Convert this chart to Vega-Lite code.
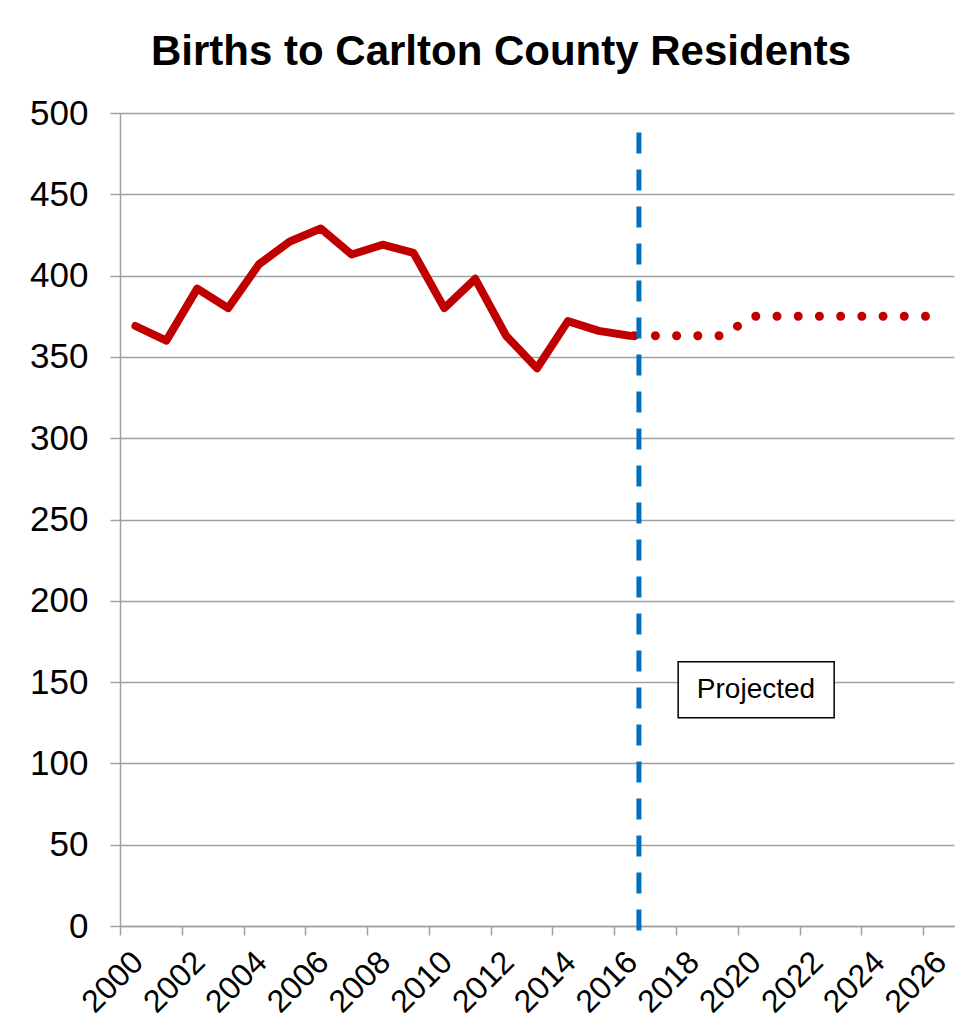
{
  "$schema": "https://vega.github.io/schema/vega-lite/v6.json",
  "width": 834,
  "height": 813,
  "autosize": "none",
  "padding": {"left": 120, "top": 113, "right": 24, "bottom": 107},
  "background": "white",
  "config": {
    "view": {"stroke": null},
    "font": "Liberation Sans",
    "axis": {"labelFont": "Liberation Sans", "labelColor": "black", "domainColor": "#A0A0A0", "tickColor": "#A0A0A0", "gridColor": "#A0A0A0", "domainWidth": 1.5, "tickWidth": 1.5, "gridWidth": 1.5}
  },
  "title": {
    "text": "Births to Carlton County Residents",
    "fontSize": 42,
    "fontWeight": "bold",
    "font": "Liberation Sans",
    "color": "black",
    "anchor": "middle",
    "dx": -36,
    "offset": 22
  },
  "datasets": {
    "births": [
      {"year": 2000, "births": 369, "series": "Actual"},
      {"year": 2001, "births": 360, "series": "Actual"},
      {"year": 2002, "births": 392, "series": "Actual"},
      {"year": 2003, "births": 380, "series": "Actual"},
      {"year": 2004, "births": 407, "series": "Actual"},
      {"year": 2005, "births": 421, "series": "Actual"},
      {"year": 2006, "births": 429, "series": "Actual"},
      {"year": 2007, "births": 413, "series": "Actual"},
      {"year": 2008, "births": 419, "series": "Actual"},
      {"year": 2009, "births": 414, "series": "Actual"},
      {"year": 2010, "births": 380, "series": "Actual"},
      {"year": 2011, "births": 398, "series": "Actual"},
      {"year": 2012, "births": 363, "series": "Actual"},
      {"year": 2013, "births": 343, "series": "Actual"},
      {"year": 2014, "births": 372, "series": "Actual"},
      {"year": 2015, "births": 366, "series": "Actual"},
      {"year": 2016, "births": 363, "series": "Actual"},
      {"year": 2016, "births": 363, "series": "Projected"},
      {"year": 2017, "births": 363, "series": "Projected"},
      {"year": 2018, "births": 363, "series": "Projected"},
      {"year": 2019, "births": 363, "series": "Projected"},
      {"year": 2020, "births": 375, "series": "Projected"},
      {"year": 2021, "births": 375, "series": "Projected"},
      {"year": 2022, "births": 375, "series": "Projected"},
      {"year": 2023, "births": 375, "series": "Projected"},
      {"year": 2024, "births": 375, "series": "Projected"},
      {"year": 2025, "births": 375, "series": "Projected"},
      {"year": 2026, "births": 375, "series": "Projected"}
    ],
    "divider": [{"year": 2016.3, "top": 488, "bottom": -7}],
    "note": [{"x1": 2017.57, "x2": 2022.62, "y1": 162.5, "y2": 128, "xm": 2020.09, "ym": 145, "label": "Projected"}]
  },
  "layer": [
    {
      "data": {"name": "births"},
      "transform": [{"filter": "datum.series == 'Actual'"}],
      "mark": {"type": "line", "color": "#C00000", "strokeWidth": 8, "strokeJoin": "round", "strokeCap": "round"},
      "encoding": {
        "x": {
          "field": "year", "type": "quantitative",
          "scale": {"domain": [1999.5, 2026.5], "nice": false, "zero": false},
          "axis": {
            "title": null,
            "values": [1999.5, 2000.5, 2001.5, 2002.5, 2003.5, 2004.5, 2005.5, 2006.5, 2007.5, 2008.5, 2009.5, 2010.5, 2011.5, 2012.5, 2013.5, 2014.5, 2015.5, 2016.5, 2017.5, 2018.5, 2019.5, 2020.5, 2021.5, 2022.5, 2023.5, 2024.5, 2025.5, 2026.5],
            "labelExpr": "((datum.value + 0.5) % 2 == 0 && datum.value < 2026) ? format(datum.value + 0.5, 'd') : ''",
            "labelAngle": -45,
            "labelAlign": "right",
            "labelBaseline": "top",
            "labelOffset": 7,
            "labelPadding": 11,
            "labelFontSize": 32,
            "labelOverlap": false,
            "labelFlush": false,
            "labelBound": false,
            "tickSize": 9,
            "grid": false
          }
        },
        "y": {
          "field": "births", "type": "quantitative",
          "scale": {"domain": [0, 500], "nice": false, "zero": true},
          "axis": {
            "title": null,
            "values": [0, 50, 100, 150, 200, 250, 300, 350, 400, 450, 500],
            "labelFontSize": 35,
            "labelPadding": 22,
            "tickSize": 10,
            "grid": true
          }
        }
      }
    },
    {
      "data": {"name": "births"},
      "transform": [{"filter": "datum.series == 'Projected'"}],
      "mark": {"type": "line", "color": "#C00000", "strokeWidth": 9, "strokeCap": "round", "strokeDash": [0.01, 21.2], "strokeDashOffset": 16.7},
      "encoding": {
        "x": {"field": "year", "type": "quantitative"},
        "y": {"field": "births", "type": "quantitative"}
      }
    },
    {
      "data": {"name": "divider"},
      "mark": {"type": "rule", "color": "#0070C0", "strokeWidth": 5, "strokeDash": [21, 16]},
      "encoding": {
        "x": {"field": "year", "type": "quantitative"},
        "y": {"field": "top", "type": "quantitative"},
        "y2": {"field": "bottom"}
      }
    },
    {
      "data": {"name": "note"},
      "mark": {"type": "rect", "fill": "white", "stroke": "black", "strokeWidth": 1.5},
      "encoding": {
        "x": {"field": "x1", "type": "quantitative"},
        "x2": {"field": "x2"},
        "y": {"field": "y1", "type": "quantitative"},
        "y2": {"field": "y2"}
      }
    },
    {
      "data": {"name": "note"},
      "mark": {"type": "text", "fontSize": 28, "font": "Liberation Sans", "color": "black", "baseline": "middle", "align": "center"},
      "encoding": {
        "x": {"field": "xm", "type": "quantitative"},
        "y": {"field": "ym", "type": "quantitative"},
        "text": {"field": "label"}
      }
    }
  ]
}
